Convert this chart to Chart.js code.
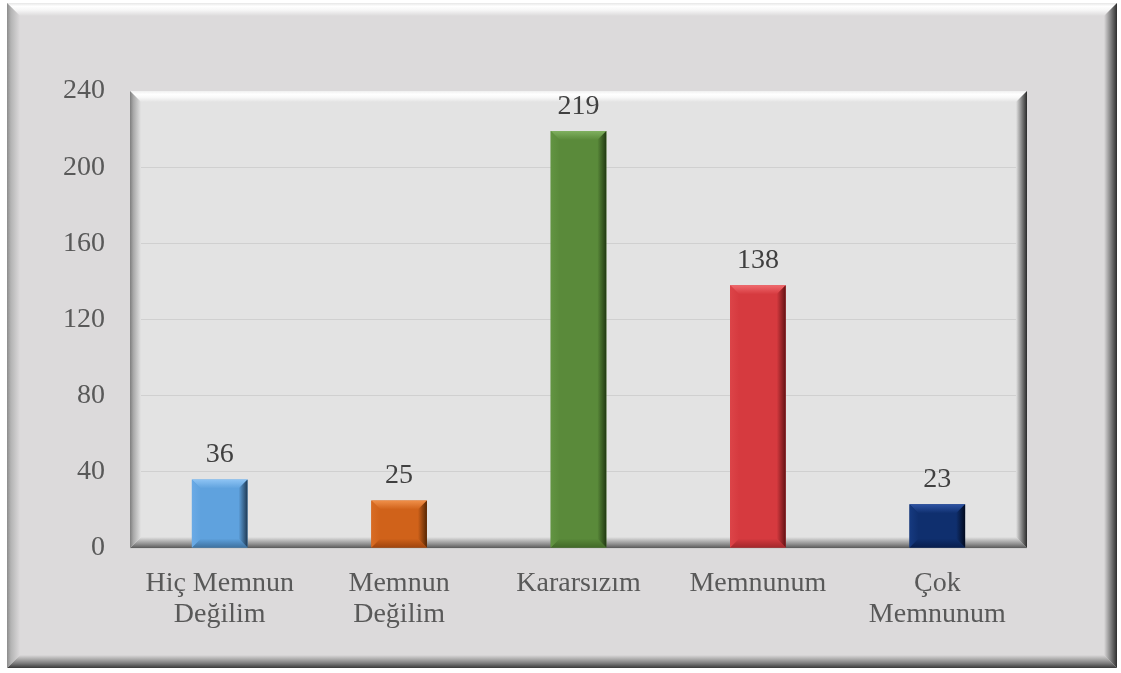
<!DOCTYPE html>
<html>
<head>
<meta charset="utf-8">
<script src="https://cdn.jsdelivr.net/npm/chart.js@4/dist/chart.umd.min.js"></script>
<style>
html,body{margin:0;padding:0;background:#ffffff;}
#wrap{width:1121px;height:673px;position:relative;}
</style>
</head>
<body>
<div id="wrap"><canvas id="c" width="1121" height="673"></canvas></div>
<script>
const categories = [["Hiç Memnun","Değilim"],["Memnun","Değilim"],"Kararsızım","Memnunum",["Çok","Memnunum"]];
const values = [36, 25, 219, 138, 23];
const yTicks = [0, 40, 80, 120, 160, 200, 240];

const barFaces   = ['#5fa2de', '#d0621a', '#5a8a3a', '#d63a3f', '#0f2f6e'];
const barTops    = ['#8ec4f4', '#f0904a', '#80b060', '#f06a6e', '#2f54a4'];
const barLefts   = ['#6aaae6', '#d86c24', '#629442', '#dc4448', '#163a80'];
const barRights  = ['#1f3a54', '#552604', '#213912', '#621214', '#020a1e'];
const barBottoms = ['#3f72a0', '#a0450e', '#426a28', '#a4282c', '#081e4e'];

const FONT = '"Liberation Serif", "Times New Roman", serif';

function poly(ctx, pts, fill){
  ctx.beginPath();
  ctx.moveTo(pts[0][0], pts[0][1]);
  for (let i = 1; i < pts.length; i++) ctx.lineTo(pts[i][0], pts[i][1]);
  ctx.closePath();
  ctx.fillStyle = fill;
  ctx.fill();
}
function lg(ctx, x0, y0, x1, y1, stops){
  const g = ctx.createLinearGradient(x0, y0, x1, y1);
  stops.forEach(s => g.addColorStop(s[0], s[1]));
  return g;
}
function bevel(ctx, x0, y0, x1, y1, b, c){
  poly(ctx, [[x0,y0],[x1,y0],[x1-b,y0+b],[x0+b,y0+b]], lg(ctx,0,y0,0,y0+b,c.top));
  poly(ctx, [[x0,y1],[x1,y1],[x1-b,y1-b],[x0+b,y1-b]], lg(ctx,0,y1,0,y1-b,c.bottom));
  poly(ctx, [[x0,y0],[x0+b,y0+b],[x0+b,y1-b],[x0,y1]], lg(ctx,x0,0,x0+b,0,c.left));
  poly(ctx, [[x1,y0],[x1-b,y0+b],[x1-b,y1-b],[x1,y1]], lg(ctx,x1,0,x1-b,0,c.right));
}

const framePlugin = {
  id: 'frames',
  beforeDraw(chart){
    const ctx = chart.ctx;
    const W = chart.width, H = chart.height;
    ctx.save();
    ctx.fillStyle = '#ffffff';
    ctx.fillRect(0, 0, W, H);
    const ox0 = 7, oy0 = 3, ox1 = 1117, oy1 = 668;
    const base = '#dcdadb';
    ctx.fillStyle = base;
    ctx.fillRect(ox0, oy0, ox1 - ox0, oy1 - oy0);
    bevel(ctx, ox0, oy0, ox1, oy1, 13, {
      top: [[0,'#e6e6e6'],[0.25,'#ffffff'],[0.55,'#f6f6f6'],[1,base]],
      left: [[0,'#8c8c8c'],[0.3,'#b4b4b4'],[1,base]],
      right: [[0,'#2e2e2e'],[0.35,'#6a6a6a'],[1,base]],
      bottom: [[0,'#3a3a3a'],[0.35,'#7a7a7a'],[1,base]]
    });
    const a = chart.chartArea;
    ctx.fillStyle = '#e3e3e3';
    ctx.fillRect(a.left, a.top, a.right - a.left, a.bottom - a.top);
    ctx.restore();
  },
  beforeDatasetsDraw(chart){
    const ctx = chart.ctx;
    const a = chart.chartArea;
    const base = '#e3e3e3';
    ctx.save();
    bevel(ctx, a.left, a.top, a.right, a.bottom, 11, {
      top: [[0,'#f0f0f0'],[0.3,'#ffffff'],[0.6,'#f8f8f8'],[1,base]],
      left: [[0,'#7e7e7e'],[0.3,'#a8a8a8'],[1,base]],
      right: [[0,'#2a2a2a'],[0.35,'#6a6a6a'],[1,base]],
      bottom: [[0,'#5a5a5a'],[0.35,'#8e8e8e'],[1,base]]
    });
    ctx.restore();
  },
  afterDatasetsDraw(chart){
    const ctx = chart.ctx;
    const meta = chart.getDatasetMeta(0);
    ctx.save();
    meta.data.forEach((el, i) => {
      const p = el.getProps(['x','y','base','width'], true);
      const x0 = p.x - p.width/2, x1 = p.x + p.width/2;
      const y0 = Math.min(p.y, p.base), y1 = Math.max(p.y, p.base);
      const b = Math.min(9, (y1 - y0)/2);
      bevel(ctx, x0, y0, x1, y1, b, {
        top: [[0, barTops[i]], [1, barFaces[i]]],
        left: [[0, barLefts[i]], [1, barFaces[i]]],
        right: [[0, barRights[i]], [1, barFaces[i]]],
        bottom: [[0, barBottoms[i]], [1, barFaces[i]]]
      });
      ctx.fillStyle = '#404040';
      ctx.font = '28px ' + FONT;
      ctx.textAlign = 'center';
      ctx.textBaseline = 'alphabetic';
      ctx.fillText(String(values[i]), p.x, y0 - 17);
    });
    ctx.restore();
  }
};

new Chart(document.getElementById('c'), {
  type: 'bar',
  data: {
    labels: categories,
    datasets: [{
      data: values,
      backgroundColor: barFaces,
      borderWidth: 0,
      barPercentage: 0.31,
      categoryPercentage: 1.0
    }]
  },
  options: {
    responsive: false,
    animation: false,
    devicePixelRatio: 1,
    layout: { padding: { top: 91, right: 94, left: 0, bottom: 0 } },
    plugins: { legend: { display: false }, tooltip: { enabled: false } },
    scales: {
      x: {
        offset: true,
        grid: { display: false, drawTicks: false },
        border: { display: false },
        ticks: {
          color: '#595959',
          padding: 20,
          maxRotation: 0,
          autoSkip: false,
          font: { family: FONT, size: 28, lineHeight: 1.1 }
        },
        afterFit(s){ s.height = 125; }
      },
      y: {
        min: 0, max: 240,
        afterBuildTicks(s){ s.ticks = yTicks.map(v => ({ value: v })); },
        grid: { color: '#d0d0d0', lineWidth: 1, drawTicks: false },
        border: { display: false },
        ticks: {
          color: '#595959',
          padding: 25,
          font: { family: FONT, size: 28 }
        },
        afterFit(s){ s.width = 130; }
      }
    }
  },
  plugins: [framePlugin]
});
</script>
</body>
</html>
